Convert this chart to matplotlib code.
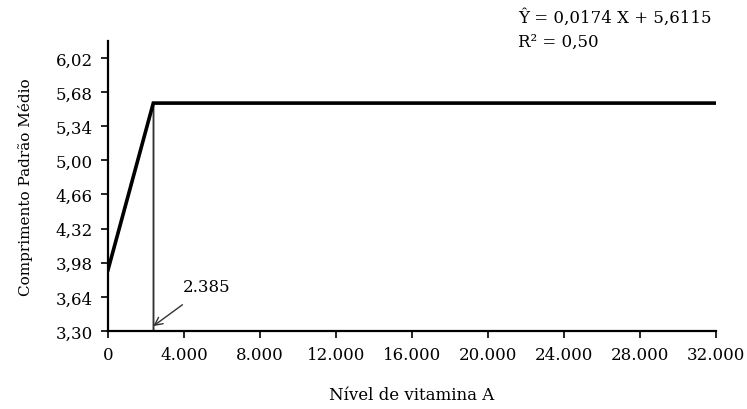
import matplotlib
matplotlib.use("Agg")
from matplotlib import pyplot as pp
from matplotlib.ticker import FuncFormatter

# dados
nivel = [0, 2385, 32000]
comprimento = [3.91, 5.57, 5.57]
ponto_quebra = 2385
x_ticks = [0, 4000, 8000, 12000, 16000, 20000, 24000, 28000, 32000]
y_ticks = [3.30, 3.64, 3.98, 4.32, 4.66, 5.00, 5.34, 5.68, 6.02]

pp.rcParams["font.family"] = ["DejaVu Serif"]
pp.rcParams["font.size"] = 12

fig = pp.figure(figsize=(7.47, 4.10), dpi=100)
ax = fig.add_axes([0.1446, 0.19, 0.8134, 0.708])

ax.plot([ponto_quebra, ponto_quebra], [y_ticks[0], comprimento[1]], color="#888888", lw=1.8, zorder=2)
ax.plot([ponto_quebra, ponto_quebra], [y_ticks[0], comprimento[1]], color="#222222", lw=0.6, zorder=2)
ax.plot(nivel, comprimento, color="black", lw=2.6, zorder=3, solid_joinstyle="miter")

ax.annotate("2.385", xy=(ponto_quebra, 3.35), xytext=(3950, 3.74),
            fontsize=12, ha="left", va="center",
            arrowprops=dict(arrowstyle="->", color="#333333", lw=1.0,
                            shrinkA=8, shrinkB=0, mutation_scale=14))

ax.set_xlim(0, 32000)
ax.set_ylim(3.30, 6.19)
ax.set_xticks(x_ticks)
ax.set_yticks(y_ticks)
ax.xaxis.set_major_formatter(FuncFormatter(lambda v, p: f"{int(v):,}".replace(",", ".")))
ax.yaxis.set_major_formatter(FuncFormatter(lambda v, p: f"{v:.2f}".replace(".", ",")))
ax.tick_params(direction="out", length=5, width=1.2, labelsize=12, pad=6)

for s in ["top", "right"]:
    ax.spines[s].set_visible(False)
for s in ["left", "bottom"]:
    ax.spines[s].set_linewidth(1.6)

ax.set_xlabel("Nível de vitamina A", fontsize=12, labelpad=16)
ax.set_ylabel("Comprimento Padrão Médio", fontsize=11, labelpad=16)

fig.text(0.693, 0.955, "Ŷ = 0,0174 X + 5,6115", fontsize=12, va="center")
fig.text(0.693, 0.897, "R² = 0,50", fontsize=12, va="center")

pp.savefig("out.png", dpi=100)
